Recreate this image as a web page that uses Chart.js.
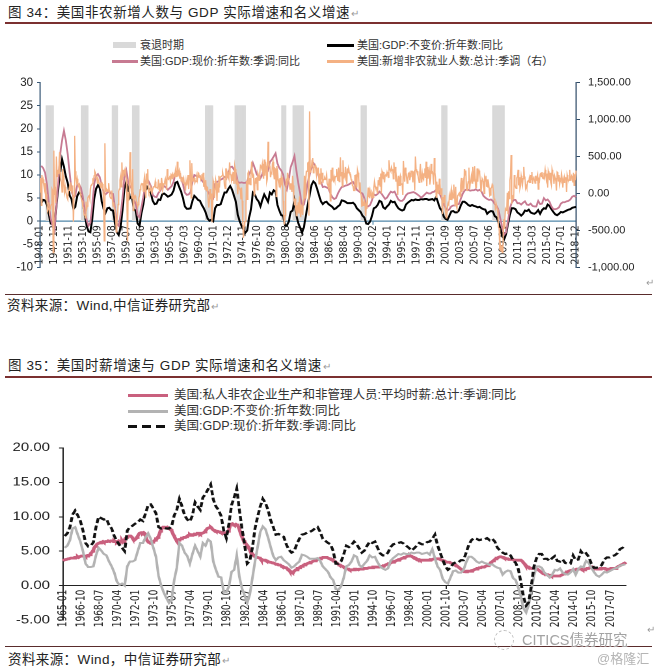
<!DOCTYPE html>
<html><head><meta charset="utf-8">
<script src="https://cdn.jsdelivr.net/npm/chart.js@4.4.1/dist/chart.umd.min.js"></script>
<style>
html,body{margin:0;padding:0;background:#fff;}
body{width:657px;height:672px;position:relative;overflow:hidden;font-family:"Liberation Sans","Noto Sans CJK SC",sans-serif;color:#222;}
.t{position:absolute;white-space:nowrap;}
.ret{color:#9a9a9a;font-size:10px;margin-left:1px;}
.sw{position:absolute;}
.rule{position:absolute;left:5px;width:647px;}
</style></head><body>

<div class="t" style="left:8px;top:5px;font-size:13.5px;line-height:16px;letter-spacing:0.6px;">图 34：美国非农新增人数与 GDP 实际增速和名义增速<span class="ret">↵</span></div>
<div class="rule" style="top:22px;height:1.5px;background:#7b3030;"></div>

<div class="sw" style="left:113px;top:42px;width:23px;height:6px;background:#d9d9d9;"></div>
<div class="t" style="left:140px;top:38px;font-size:11px;line-height:14px;color:#333;">衰退时期</div>
<div class="sw" style="left:327px;top:44px;width:27px;height:2.5px;background:#000;"></div>
<div class="t" style="left:357px;top:38px;font-size:11px;line-height:14px;color:#333;">美国:GDP:不变价:折年数:同比</div>
<div class="sw" style="left:112px;top:60px;width:26px;height:2.5px;background:#c77a92;"></div>
<div class="t" style="left:140px;top:54px;font-size:11px;line-height:14px;color:#333;">美国:GDP:现价:折年数:季调:同比</div>
<div class="sw" style="left:327px;top:60px;width:27px;height:3px;background:#f4b183;"></div>
<div class="t" style="left:357px;top:54px;font-size:11px;line-height:14px;color:#333;">美国:新增非农就业人数:总计:季调（右）</div>

<div style="position:absolute;left:0;top:68px;width:657px;height:214px;"><canvas id="c1"></canvas></div>
<div class="t ret" style="left:645px;top:277px;">↵</div>

<div class="rule" style="top:294px;height:1.2px;background:#5a2c2c;"></div>
<div class="t" style="left:7px;top:298px;font-size:13.5px;line-height:16px;letter-spacing:0.4px;">资料来源：Wind,中信证券研究部<span class="ret">↵</span></div>

<div class="t" style="left:8px;top:358px;font-size:13.5px;line-height:16px;letter-spacing:0.6px;">图 35：美国时薪增速与 GDP 实际增速和名义增速<span class="ret">↵</span></div>
<div class="rule" style="top:376px;height:1.5px;background:#7b3030;"></div>

<div class="sw" style="left:128px;top:394px;width:40px;height:3px;background:#c9607e;"></div>
<div class="t" style="left:174px;top:388px;font-size:12.5px;line-height:15px;color:#333;">美国:私人非农企业生产和非管理人员:平均时薪:总计:季调:同比</div>
<div class="sw" style="left:128px;top:410px;width:40px;height:2.5px;background:#b3b3b3;"></div>
<div class="t" style="left:174px;top:404px;font-size:12.5px;line-height:15px;color:#333;">美国:GDP:不变价:折年数:同比</div>
<div class="sw" style="left:128px;top:425px;width:40px;height:3px;background:repeating-linear-gradient(90deg,#111 0 9px,transparent 9px 14px);"></div>
<div class="t" style="left:174px;top:419px;font-size:12.5px;line-height:15px;color:#333;">美国:GDP:现价:折年数:季调:同比</div>

<div style="position:absolute;left:0;top:434px;width:505px;height:200px;transform:scaleX(1.30099);transform-origin:0 0;"><canvas id="c2"></canvas></div>

<div class="rule" style="top:646px;height:1.2px;background:#5a2c2c;"></div>
<div class="t" style="left:8px;top:652px;font-size:13.5px;line-height:16px;letter-spacing:0.4px;">资料来源：Wind，中信证券研究部<span class="ret">↵</span></div>

<div style="position:absolute;left:494px;top:630px;width:18px;height:18px;border:1.5px dashed #bbb;border-radius:50%;"></div>
<div class="t" style="left:522px;top:632px;font-size:14.5px;line-height:17px;color:#a3a3a3;text-shadow:0 0 2px #fff,0 0 2px #fff;">CITICS债券研究</div>
<div class="t ret" style="left:646px;top:624px;">↵</div>
<div class="t" style="left:597px;top:651px;font-size:13px;line-height:15px;color:#b5b5b5;">@格隆汇</div>

<script>
// ---------- DATA ----------
// Quarterly US real GDP, YoY %, 1948Q1 .. 2018Q4
const gdpRealQ = [
3.9,4.6,4.5,3.5, 1.5,-0.5,-0.6,-1.8, 3.3,7.2,10.5,13.4, 11.8,9.7,8.3,5.6,
4.8,2.6,3.1,5.4, 6.2,5.9,4.3,1.5, -1.0,-2.2,-2.4,0.5, 4.8,7.0,7.8,7.2,
4.3,2.7,1.8,2.8, 2.9,2.4,2.3,-0.4, -2.4,-3.0,-1.2,2.4, 6.9,8.5,7.0,5.0,
5.3,2.5,2.3,-0.5, -1.0,1.7,3.6,6.5, 7.4,6.8,6.1,4.4, 3.7,3.8,4.7,4.6,
5.8,6.0,5.7,5.3, 5.5,5.8,6.6,8.3, 8.5,7.4,6.4,5.0, 3.2,2.7,2.7,2.8,
4.4,5.5,5.1,4.6, 4.4,3.5,2.8,1.9, 0.6,0.1,0.3,0.0, 2.8,3.5,3.5,3.7,
5.0,6.2,6.2,7.0, 7.6,6.8,5.5,4.2, 1.4,0.0,-1.0,-1.8, -2.5,-2.0,0.8,2.6,
6.2,5.8,4.8,4.3, 3.2,4.6,5.8,5.0, 4.2,6.2,5.8,6.7, 6.4,3.5,2.3,1.3,
1.2,-0.9,-0.9,-0.1, 2.0,2.3,4.4,1.3, -0.4,-1.4,-2.5,-1.3, 1.1,3.5,5.6,7.8,
8.6,8.2,7.0,5.6, 4.3,3.7,4.1,4.2, 3.7,3.4,3.1,2.6, 2.8,3.2,3.5,4.5,
4.4,4.2,3.9,3.9, 3.9,4.0,3.6,2.8, 2.4,2.0,1.2,0.8, -0.5,-0.6,-0.1,1.1,
2.8,3.0,3.5,4.4, 4.2,3.0,2.7,3.2, 3.6,4.4,4.1,4.2, 3.4,2.8,2.5,2.3,
2.5,3.6,4.0,4.3, 4.6,4.5,4.7,4.6, 4.6,4.8,4.7,4.8, 4.8,4.6,4.7,4.8,
4.5,5.3,4.0,2.8, 2.3,1.0,0.5,0.3, 1.2,2.1,2.2,1.9, 1.9,2.3,3.4,4.2,
4.2,3.9,3.5,3.3, 3.5,3.3,3.2,3.0, 3.1,2.8,2.6,2.5, 1.6,2.0,2.2,2.1,
1.1,0.8,-0.3,-1.6, -3.3,-3.9,-2.8,-0.6, 1.4,2.8,2.8,2.6, 1.9,1.6,1.2,1.6,
2.3,2.2,2.5,1.9, 1.7,1.6,1.9,2.4, 1.6,2.4,2.8,2.7, 3.6,3.3,2.6,2.0,
1.5,1.3,1.6,2.0, 1.9,2.1,2.3,2.5, 2.6,2.9,3.0,3.1
];
// Quarterly US nominal GDP (SA), YoY %, 1948Q1 .. 2018Q4
const gdpNominalQ = [
12.0,11.5,10.5,8.0, 4.0,0.5,-1.0,-2.0, 3.5,8.5,14.5,17.5, 19.6,17.5,14.5,10.5,
7.0,5.0,5.5,7.8, 8.0,7.2,5.3,2.3, 0.3,-1.0,-0.3,3.5, 8.0,9.8,10.2,9.5,
7.8,6.2,5.8,6.2, 6.5,6.0,5.9,2.8, -0.5,-1.0,1.5,5.0, 9.5,11.0,8.5,7.3,
7.5,4.5,3.8,1.3, 0.8,3.0,5.2,8.0, 9.2,8.5,7.6,5.7, 5.3,5.2,6.1,6.6,
7.4,7.6,7.3,6.8, 7.2,7.6,8.5,10.3, 10.9,10.2,9.4,8.0, 6.2,5.7,5.8,6.3,
8.5,10.0,9.8,9.6, 9.7,8.8,8.3,7.2, 6.5,5.9,5.5,5.0, 8.0,8.5,8.7,9.0,
9.2,9.6,9.4,10.5, 11.7,11.8,11.2,10.5, 8.5,8.3,8.4,8.3, 8.3,8.6,10.2,11.0,
12.6,11.5,10.2,9.6, 9.3,10.2,12.1,11.5, 11.0,12.8,13.3,14.0, 14.7,12.5,11.5,11.0,
10.1,8.0,6.9,9.0, 11.7,12.8,14.1,11.0, 8.3,6.0,3.2,3.6, 5.5,8.3,10.0,11.5,
12.6,12.0,11.0,9.5, 8.5,7.4,7.5,7.3, 7.1,6.0,5.2,4.8, 5.0,6.0,6.8,7.4,
7.5,7.7,7.8,8.0, 8.3,8.5,7.8,6.8, 6.5,6.2,6.0,5.0, 3.2,3.2,3.5,4.5,
5.8,5.6,5.9,6.4, 6.0,5.4,4.8,5.1, 5.8,6.4,6.2,6.4, 5.5,4.7,4.4,4.4,
4.8,5.6,6.0,6.1, 6.2,6.3,6.1,5.8, 5.5,5.1,5.4,5.8, 6.2,6.0,6.0,6.3,
6.4,6.8,7.4,5.9, 4.8,3.8,2.8,2.3, 2.6,3.2,3.4,3.4, 3.7,3.7,4.8,5.9,
6.6,6.9,6.8,6.6, 6.7,6.7,6.9,6.6, 6.8,6.4,5.5,5.1, 4.8,4.6,4.7,4.4,
3.7,3.3,2.4,0.5, -1.6,-2.9,-2.4,0.0, 2.8,4.0,4.6,4.6, 3.9,3.9,3.6,4.0,
4.3,3.6,3.5,3.8, 3.3,3.2,3.2,4.4, 3.7,3.8,5.0,4.5, 4.7,4.2,3.2,2.6,
2.6,2.7,3.0,3.8, 4.1,4.1,4.3,4.4, 4.7,5.3,5.5,5.2
];
// Monthly change in US nonfarm payrolls (thousands, SA), 1948-01 .. 2018-12
const payrolls = [
20,210,-160,250,160,190,120,60,140,-40,-10,-100,
-230,-200,-120,-250,-210,-180,-150,60,40,-800,580,-20,
90,-130,500,230,320,270,300,560,290,200,150,20,
330,240,120,20,90,20,-10,-60,-80,40,60,100,
40,150,30,50,110,-380,-30,780,300,210,150,200,
130,100,120,40,0,-40,-80,-100,-180,-190,-290,-280,
-330,-110,-210,-170,-60,-40,-30,-70,60,110,120,130,
190,180,240,300,280,200,220,140,200,170,140,120,
90,140,110,130,70,-100,-640,680,110,30,60,50,
30,140,40,-40,-60,-70,40,-70,-170,-120,-200,-220,
-330,-520,-430,-320,-150,30,60,180,230,90,420,180,
320,230,300,330,260,200,-150,-650,20,-100,110,560,
200,40,-70,330,-230,-40,-60,-30,-50,-110,-140,-180,
-150,-60,-30,50,100,130,120,140,30,160,220,90,
-60,270,140,330,50,10,40,90,50,60,20,20,
90,90,110,160,80,80,80,70,190,110,20,140,
50,210,140,60,100,130,160,200,150,50,330,200,
190,210,240,170,250,230,260,210,220,260,240,310,
230,240,430,230,280,310,200,280,170,200,210,180,
210,150,110,40,170,110,160,250,60,190,450,230,
-60,410,170,170,200,210,150,170,160,220,180,280,
270,220,250,190,220,260,180,280,90,150,60,180,
40,90,80,-90,-190,-80,60,-80,0,-390,-170,170,
130,-60,60,180,140,-100,140,20,240,80,220,220,
230,240,280,240,220,110,70,340,180,290,250,250,
210,420,260,250,180,240,170,290,130,380,330,140,
130,160,-10,140,80,60,60,-80,80,-100,-380,-600,
-440,-380,-380,-160,170,-80,270,290,130,210,120,280,
430,280,210,260,-20,90,210,140,220,50,270,240,
180,270,380,370,340,400,260,200,460,240,430,370,
160,200,700,450,360,380,220,280,270,400,430,260,
200,340,330,-40,370,320,190,150,90,210,130,220,
150,180,-100,-290,-420,-300,-60,200,110,280,210,180,
130,60,130,130,20,240,110,-40,-160,-70,-220,-300,
-160,-210,-120,-270,-40,-230,-320,-150,-220,-290,-90,20,
240,-60,200,300,300,410,420,-300,1110,290,350,360,
450,480,280,350,360,380,320,240,320,290,350,130,
270,130,340,190,280,140,190,190,210,190,200,250,
130,110,80,200,130,-100,320,160,350,190,170,220,
180,230,230,330,230,170,350,160,220,490,240,290,
100,450,220,250,220,360,240,130,340,270,340,290,
260,260,190,170,110,100,40,40,250,110,260,80,
320,280,210,40,150,10,-30,-180,-100,-160,-140,-100,
-140,-300,-160,-210,-60,80,-40,-50,40,40,-60,20,
0,-50,80,160,100,70,60,90,0,180,110,220,
100,270,0,300,270,200,290,150,240,250,240,290,
260,220,450,340,320,300,350,310,330,200,420,280,
360,160,230,160,-20,240,110,210,240,120,130,130,
-20,440,280,160,350,290,220,140,200,270,280,180,
230,300,300,300,150,270,290,40,500,330,300,300,
260,190,150,280,400,220,150,270,210,190,270,340,
210,430,100,360,200,260,310,120,200,400,280,290,
250,120,480,290,220,-50,160,0,120,-10,200,140,
-20,70,-40,-280,-50,-130,-20,-150,-240,-330,-290,-170,
-130,-150,-30,-80,-10,50,-90,-10,-60,120,10,-160,
90,-170,-200,-30,-20,0,10,-40,110,210,20,110,
160,40,330,250,310,80,40,120,160,350,60,130,
130,240,140,360,170,240,370,190,80,80,340,160,
280,310,280,180,20,80,200,180,160,0,210,170,
240,90,190,80,140,80,-30,-20,70,80,120,100,
20,-80,-70,-210,-180,-170,-210,-270,-460,-470,-770,-700,
-780,-700,-800,-700,-350,-470,-340,-210,-230,-210,10,-280,
30,-70,180,240,520,-140,-40,-30,-80,250,130,80,
70,210,230,320,110,220,70,110,240,190,120,200,
360,230,210,70,100,70,160,170,160,210,150,250,
190,290,130,200,230,180,140,240,180,210,250,60,
190,170,260,280,230,290,210,200,280,230,320,250,
190,270,80,300,260,180,280,150,110,320,270,240,
130,240,210,170,40,290,280,170,250,130,190,170,
260,200,80,190,150,220,190,220,20,250,210,170,
180,320,180,200,240,220,150,280,110,260,180,310
];
// NBER recession periods (first month, last month)
const recessions = [
['1948-11','1949-10'],['1953-07','1954-05'],['1957-08','1958-04'],['1960-04','1961-02'],
['1969-12','1970-11'],['1973-11','1975-03'],['1980-01','1980-07'],['1981-07','1982-11'],
['1990-07','1991-03'],['2001-03','2001-11'],['2007-12','2009-06']
];
const recessionHeight = 25;
// Monthly YoY % of avg hourly earnings, production & nonsupervisory, 1965-01 .. 2019-01
const wages = [
3.6,3.7,3.7,3.8,3.8,3.8,3.9,3.9,3.9,4.0,4.0,4.0,
4.0,4.0,4.1,4.1,4.1,4.2,4.1,4.2,4.2,4.3,4.3,4.3,
4.3,4.3,4.2,4.3,4.3,4.4,4.4,4.5,4.7,4.8,5.0,5.2,
5.5,5.7,5.8,6.0,6.1,6.1,6.2,6.2,6.3,6.3,6.4,6.3,
6.3,6.4,6.4,6.4,6.5,6.5,6.4,6.5,6.5,6.5,6.4,6.5,
6.4,6.4,6.3,6.4,6.5,6.4,6.3,6.4,6.5,6.3,6.4,6.7,
6.9,7.0,7.1,7.1,7.2,7.2,7.2,7.1,6.9,6.7,6.6,6.6,
6.8,7.0,7.2,7.4,7.6,7.6,7.7,7.7,7.6,7.7,7.6,7.3,
6.8,6.5,6.4,6.3,6.3,6.2,6.2,6.3,6.4,6.5,6.6,6.8,
6.8,7.0,7.2,7.5,7.9,8.2,8.4,8.4,8.5,8.5,8.4,8.4,
8.5,8.4,8.3,8.3,8.2,8.0,7.7,7.4,7.2,6.9,6.7,6.5,
6.5,6.6,6.7,6.7,6.8,6.9,6.9,7.0,7.0,7.0,7.1,7.2,
7.3,7.3,7.4,7.3,7.3,7.4,7.4,7.4,7.5,7.5,7.5,7.6,
7.6,7.6,7.5,7.6,7.6,7.6,7.7,7.8,8.0,8.1,8.3,8.3,
8.4,8.4,8.5,8.4,8.2,8.1,8.0,8.0,7.9,7.9,7.9,7.9,
7.8,7.8,7.7,7.7,7.6,7.7,7.7,7.6,7.6,7.7,7.9,8.1,
8.6,8.9,8.9,9.0,8.9,8.8,8.8,8.9,8.8,8.8,8.5,8.2,
7.8,7.4,7.1,6.8,6.6,6.4,6.2,6.0,5.8,5.7,5.5,5.2,
4.9,4.8,4.6,4.5,4.3,4.2,4.2,4.1,4.1,4.1,4.0,4.0,
3.8,3.8,3.7,3.7,3.7,3.7,3.6,3.6,3.5,3.5,3.4,3.4,
3.4,3.3,3.3,3.3,3.2,3.1,3.1,3.1,3.0,3.0,3.0,2.9,
2.8,2.8,2.7,2.7,2.6,2.6,2.5,2.3,2.3,2.1,2.0,2.0,
1.9,1.9,2.1,2.1,2.3,2.3,2.5,2.5,2.6,2.7,2.8,2.8,
2.9,3.0,3.0,3.1,3.1,3.2,3.2,3.3,3.3,3.4,3.4,3.5,
3.5,3.6,3.6,3.7,3.7,3.8,3.8,3.9,3.9,4.0,4.0,4.1,
4.1,4.1,4.1,4.1,4.1,4.0,4.0,3.9,3.9,3.8,3.8,3.7,
3.6,3.5,3.4,3.3,3.2,3.1,3.0,3.0,2.9,2.9,2.8,2.7,
2.6,2.6,2.5,2.5,2.4,2.4,2.3,2.3,2.3,2.3,2.3,2.3,
2.4,2.4,2.4,2.4,2.3,2.4,2.4,2.4,2.4,2.5,2.5,2.5,
2.5,2.5,2.5,2.5,2.6,2.6,2.6,2.6,2.6,2.7,2.7,2.7,
2.7,2.7,2.7,2.7,2.7,2.8,2.8,2.8,2.8,2.9,2.9,3.0,
3.0,3.1,3.1,3.2,3.2,3.3,3.3,3.4,3.4,3.5,3.5,3.6,
3.6,3.7,3.7,3.8,3.8,3.9,3.9,4.0,4.0,4.1,4.1,4.2,
4.2,4.3,4.3,4.4,4.3,4.3,4.2,4.1,4.1,4.0,4.0,3.9,
3.8,3.8,3.8,3.7,3.7,3.7,3.7,3.7,3.7,3.7,3.7,3.7,
3.7,3.7,3.7,3.8,3.8,3.8,3.8,3.9,3.9,3.9,3.9,3.9,
3.9,3.9,3.8,3.8,3.7,3.7,3.6,3.6,3.5,3.5,3.4,3.4,
3.4,3.4,3.3,3.3,3.2,3.2,3.1,3.1,3.0,2.9,2.8,2.7,
2.6,2.5,2.4,2.3,2.2,2.1,2.1,2.0,2.0,2.1,2.1,2.1,
2.1,2.1,2.1,2.2,2.2,2.3,2.3,2.4,2.4,2.5,2.5,2.6,
2.6,2.6,2.7,2.7,2.7,2.7,2.8,2.8,2.9,2.9,3.0,3.1,
3.3,3.4,3.5,3.6,3.7,3.8,3.9,4.0,4.0,4.1,4.1,4.2,
4.2,4.2,4.1,4.1,4.0,4.0,3.9,3.9,3.9,3.8,3.8,3.8,
3.8,3.8,3.8,3.7,3.7,3.7,3.7,3.7,3.7,3.7,3.7,3.7,
3.6,3.5,3.3,3.2,3.0,2.9,2.8,2.7,2.7,2.6,2.6,2.5,
2.5,2.5,2.5,2.5,2.5,2.4,2.4,2.3,2.2,2.1,2.0,1.9,
1.9,1.8,1.8,1.7,1.7,1.6,1.6,1.5,1.5,1.5,1.4,1.4,
1.4,1.4,1.4,1.4,1.4,1.4,1.4,1.4,1.4,1.5,1.5,1.6,
1.7,1.8,1.8,1.9,2.0,2.0,2.1,2.1,2.2,2.2,2.2,2.3,
2.3,2.3,2.3,2.4,2.4,2.4,2.4,2.4,2.4,2.4,2.3,2.3,
2.3,2.4,2.4,2.5,2.5,2.5,2.6,2.6,2.6,2.7,2.6,2.6,
2.5,2.5,2.4,2.4,2.4,2.4,2.4,2.5,2.5,2.5,2.5,2.5,
2.5,2.4,2.4,2.4,2.4,2.4,2.4,2.5,2.5,2.5,2.5,2.5,
2.5,2.6,2.7,2.8,2.8,2.9,3.0,3.0,3.1,3.2,3.2,3.3,
3.4
];
// Axis settings
const chart1Start = [1948, 1], chart1Months = 852, chart1LabelStep = 23;
const chart2Start = [1965, 1], chart2Months = 649, chart2LabelStep = 21;

// ---------- helpers ----------
function monthLabels(y, m, n) {
  const out = [];
  for (let i = 0; i < n; i++) {
    const k = m - 1 + i;
    out.push((y + Math.floor(k / 12)) + '-' + String(k % 12 + 1).padStart(2, '0'));
  }
  return out;
}
function placeQuarterly(labels, startYear, q) {
  const map = {};
  q.forEach((v, i) => {
    const yy = startYear + Math.floor(i / 4), mm = (i % 4) * 3 + 3;
    map[yy + '-' + String(mm).padStart(2, '0')] = v;
  });
  return labels.map(l => (l in map ? map[l] : null));
}

const labels1 = monthLabels(chart1Start[0], chart1Start[1], chart1Months);
const labels2 = monthLabels(chart2Start[0], chart2Start[1], chart2Months);
const recessionBars = labels1.map(l => recessions.some(r => l >= r[0] && l <= r[1]) ? recessionHeight : null);

const FONT = '"Liberation Sans","Noto Sans CJK SC",sans-serif';
const NARROW = '"Liberation Sans Narrow","DejaVu Sans Condensed","Liberation Sans",sans-serif';

// ---------- chart 1 ----------
new Chart(document.getElementById('c1'), {
  data: {
    labels: labels1,
    datasets: [
      { type: 'line', label: '美国:新增非农就业人数:总计:季调（右）', data: payrolls, yAxisID: 'y2',
        borderColor: '#f4b183', borderWidth: 1.3, pointRadius: 0, tension: 0, order: 0 },
      { type: 'line', label: '美国:GDP:现价:折年数:季调:同比', data: placeQuarterly(labels1, 1948, gdpNominalQ), yAxisID: 'y',
        borderColor: '#c77a92', borderWidth: 1.8, pointRadius: 0, tension: 0, spanGaps: true, order: 1 },
      { type: 'line', label: '美国:GDP:不变价:折年数:同比', data: placeQuarterly(labels1, 1948, gdpRealQ), yAxisID: 'y',
        borderColor: '#000000', borderWidth: 2, pointRadius: 0, tension: 0, spanGaps: true, order: 2 },
      { type: 'bar', label: '衰退时期', data: recessionBars, yAxisID: 'y',
        backgroundColor: '#d9d9d9', borderWidth: 0, barPercentage: 1, categoryPercentage: 1, order: 3 }
    ]
  },
  options: {
    responsive: true, maintainAspectRatio: false, animation: false, devicePixelRatio: 2, events: [],
    layout: { padding: { top: 10, bottom: 7, left: 0, right: 0 } },
    plugins: { legend: { display: false }, tooltip: { enabled: false } },
    scales: {
      x: {
        type: 'category', position: { y: 0 }, offset: false,
        grid: { drawOnChartArea: false, offset: false, tickLength: 3,
          color: c => (c.index % chart1LabelStep === 0 ? '#4f86a8' : 'rgba(0,0,0,0)') },
        border: { color: '#4f86a8', width: 1.2 },
        ticks: { autoSkip: false, maxRotation: 90, minRotation: 90, padding: 1, color: '#222',
          font: { family: NARROW, size: 10.5 },
          callback: function (v, i) { return i % chart1LabelStep === 0 ? this.getLabelForValue(v) : null; } }
      },
      y: {
        position: 'left', min: -10, max: 30,
        grid: { drawOnChartArea: false, tickLength: 3, color: '#3b5a78' },
        border: { color: '#3b5a78', width: 1.2 },
        ticks: { stepSize: 5, padding: 4, color: '#222', font: { family: FONT, size: 11.5 } },
        afterFit: s => { s.width = 40; }
      },
      y2: {
        position: 'right', min: -1000, max: 1500,
        grid: { drawOnChartArea: false, tickLength: 4, color: '#2e4a66' },
        border: { color: '#2e4a66', width: 1.2 },
        ticks: { stepSize: 500, padding: 8, color: '#222', font: { family: FONT, size: 11 },
          callback: v => Number(v).toLocaleString('en-US', { minimumFractionDigits: 2, maximumFractionDigits: 2 }) },
        afterFit: s => { s.width = 81; }
      }
    }
  }
});

// ---------- chart 2 ----------
new Chart(document.getElementById('c2'), {
  type: 'line',
  data: {
    labels: labels2,
    datasets: [
      { label: '美国:GDP:现价:折年数:季调:同比', data: placeQuarterly(labels2, 1948, gdpNominalQ),
        borderColor: '#111111', borderWidth: 2.2, borderDash: [5, 2.5], pointRadius: 0, tension: 0, spanGaps: true, order: 0 },
      { label: '美国:GDP:不变价:折年数:同比', data: placeQuarterly(labels2, 1948, gdpRealQ),
        borderColor: '#b3b3b3', borderWidth: 2, pointRadius: 0, tension: 0, spanGaps: true, order: 1 },
      { label: '美国:私人非农企业生产和非管理人员:平均时薪:总计:季调:同比', data: wages,
        borderColor: '#c9607e', borderWidth: 2.8, pointRadius: 0, tension: 0, order: 2 }
    ]
  },
  options: {
    responsive: true, maintainAspectRatio: false, animation: false, devicePixelRatio: 2, events: [],
    layout: { padding: { top: 10, bottom: 7, left: 0, right: 23.8 } },
    plugins: { legend: { display: false }, tooltip: { enabled: false } },
    scales: {
      x: {
        type: 'category', position: { y: 0 }, offset: false,
        grid: { drawOnChartArea: false, offset: false, tickLength: 3,
          color: c => (c.index % chart2LabelStep === 0 ? '#222' : 'rgba(0,0,0,0)') },
        border: { color: '#222', width: 1 },
        ticks: { autoSkip: false, maxRotation: 90, minRotation: 90, padding: 1, color: '#222',
          font: { family: NARROW, size: 10 },
          callback: function (v, i) { return i % chart2LabelStep === 0 ? this.getLabelForValue(v) : null; } }
      },
      y: {
        position: 'left', min: -5, max: 20,
        grid: { drawOnChartArea: false, tickLength: 3, color: '#222' },
        border: { color: '#222', width: 1 },
        ticks: { stepSize: 5, padding: 7, color: '#222', font: { family: FONT, size: 11.5 },
          callback: v => Number(v).toFixed(2) },
        afterFit: s => { s.width = 48.4; }
      }
    }
  }
});
</script>
</body></html>
